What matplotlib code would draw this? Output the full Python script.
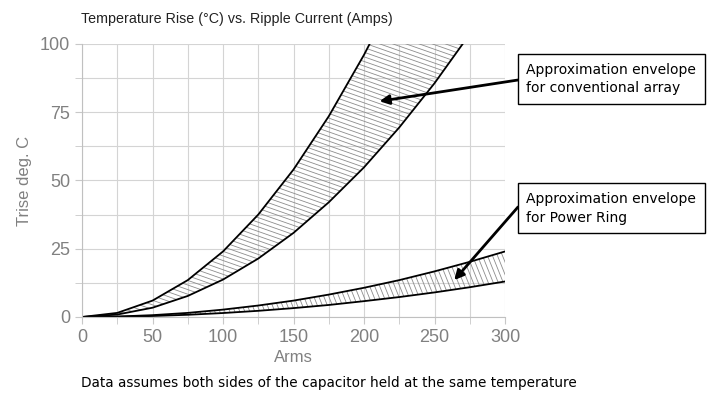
import numpy as np
import matplotlib
matplotlib.use("Agg")
import matplotlib.pyplot as plt
from matplotlib.ticker import MultipleLocator
from matplotlib.collections import LineCollection

# ripple current (A rms)
arms = [0, 25, 50, 75, 100, 125, 150, 175, 200, 225, 250, 275, 300]

# conventional array envelope (deg C)
conv_hi = [0, 1.5, 6, 13.5, 24, 37.5, 54, 73.5, 96, 121, 150, 181, 216]
conv_lo = [0, 0.9, 3.4, 7.7, 13.7, 21.4, 30.8, 42, 54.8, 69.4, 85.6, 103.6, 123.3]

# power ring envelope (deg C)
ring_hi = [0, 0.17, 0.67, 1.5, 2.7, 4.2, 6.0, 8.2, 10.7, 13.5, 16.7, 20.2, 24]
ring_lo = [0, 0.09, 0.36, 0.81, 1.45, 2.26, 3.25, 4.4, 5.8, 7.3, 9.0, 10.9, 13]

grey = "#808080"

fig = plt.figure(figsize=(7.2, 4.01), dpi=100)
ax = fig.add_axes([0.1139, 0.2095, 0.5875, 0.681])
W, H = 423.0, 273.0  # axes size in px


def hatch(region, slope, step):
    # lines y = c - slope*x in axes pixels, clipped to the band
    segs = []
    if abs(slope) < 1:
        for c in np.arange(0, H + slope * W + step, step):
            segs.append([(0, c / H), (1, (c - slope * W) / H)])
    else:
        for c in np.arange(-W / slope, W + H / slope + step, step):
            segs.append([(c / W, 1), ((c + H / slope) / W, 0)])
    lc = LineCollection(segs, colors="#8c8c8c", linewidths=0.6, transform=ax.transAxes)
    ax.add_collection(lc)
    lc.set_clip_path(region.get_paths()[0], ax.transData)


band1 = ax.fill_between(arms, conv_lo, conv_hi, facecolor="none", lw=0)
band2 = ax.fill_between(arms, ring_lo, ring_hi, facecolor="none", lw=0)
hatch(band1, 0.35, 4.6)
hatch(band2, 2.5, 5.0)
for s in (conv_hi, conv_lo, ring_hi, ring_lo):
    ax.plot(arms, s, color="black", lw=1.3)

ax.set_xlim(0, 300)
ax.set_ylim(0, 100)
ax.xaxis.set_major_locator(MultipleLocator(50))
ax.xaxis.set_minor_locator(MultipleLocator(25))
ax.yaxis.set_major_locator(MultipleLocator(25))
ax.yaxis.set_minor_locator(MultipleLocator(12.5))
ax.grid(which="both", color="#d4d4d4", lw=0.8)
ax.set_axisbelow(True)
ax.tick_params(which="both", color="#c8c8c8", length=5, labelcolor=grey, labelsize=13)
for side in ("top", "right"):
    ax.spines[side].set_visible(False)
for side in ("left", "bottom"):
    ax.spines[side].set_color("#c0c0c0")
for lab in ax.get_xticklabels() + ax.get_yticklabels():
    lab.set_family("Liberation Sans")

ax.set_xlabel("Arms", color=grey, fontsize=12, family="Liberation Sans", labelpad=3)
ax.set_ylabel("Trise deg. C", color=grey, fontsize=12, family="Liberation Sans", labelpad=6)

fig.text(0.113, 0.943, "Temperature Rise (\u00b0C) vs. Ripple Current (Amps)", fontsize=10.3,
         family="Liberation Sans", color="#222222")
fig.text(0.113, 0.035, "Data assumes both sides of the capacitor held at the same temperature", fontsize=9.8, color="black")

box = dict(boxstyle="square,pad=0.6", fc="white", ec="black", lw=1)
fig.text(0.731, 0.803, "Approximation envelope\nfor conventional array", fontsize=10, va="center", ha="left",
         linespacing=1.45, bbox=box, zorder=5)
fig.text(0.731, 0.481, "Approximation envelope\nfor Power Ring", fontsize=10, va="center", ha="left",
         linespacing=1.45, bbox=box, zorder=5)

arrow = dict(arrowstyle="-|>", color="black", lw=2, shrinkA=0, shrinkB=0, mutation_scale=14)
ax.annotate("", xy=(211, 79), xycoords="data", xytext=(518 / 720, 1 - 80 / 401),
            textcoords="figure fraction", annotation_clip=False, arrowprops=arrow)
ax.annotate("", xy=(264, 13.5), xycoords="data", xytext=(518 / 720, 1 - 207 / 401),
            textcoords="figure fraction", annotation_clip=False, arrowprops=arrow)

fig.savefig("out.png", dpi=100)
